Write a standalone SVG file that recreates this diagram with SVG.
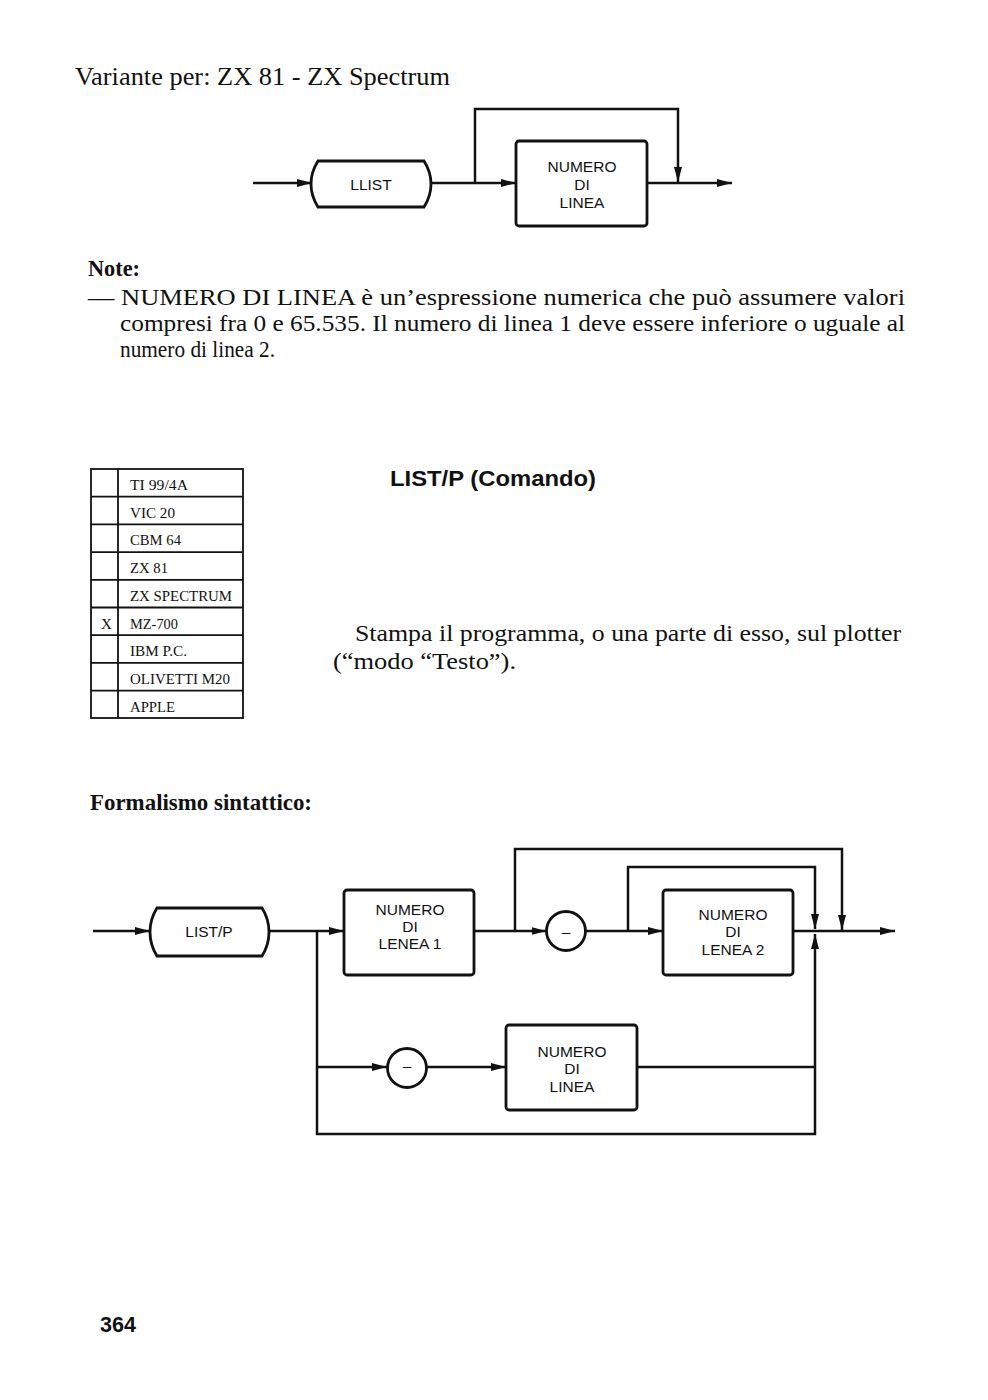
<svg xmlns="http://www.w3.org/2000/svg" width="988" height="1400" viewBox="0 0 988 1400">
<style>
.bg{fill:#fff}
.ln{fill:none;stroke:#111;stroke-width:2.5;stroke-linejoin:miter}
.box{fill:#fff;stroke:#111;stroke-width:2.8}
.cap{fill:#fff;stroke:#111;stroke-width:2.8}
.lbl{font-family:"Liberation Sans",Arial,sans-serif;font-size:15.5px;fill:#111;text-anchor:middle}
.ser{font-family:"Liberation Serif","Times New Roman",serif;fill:#111}
.body{font-size:23px}
.bold{font-weight:bold}
.tbl{font-family:"Liberation Serif","Times New Roman",serif;font-size:14px;fill:#111}
.tbline{fill:none;stroke:#111;stroke-width:1.8}
.sans{font-family:"Liberation Sans",Arial,sans-serif;fill:#111}
</style>
<defs>
<marker id="ah" viewBox="0 0 15 8" refX="15" refY="4" markerWidth="15" markerHeight="8" markerUnits="userSpaceOnUse" orient="auto">
<path d="M0,0 L15,4 L0,8 Z" fill="#111"/>
</marker>
</defs>
<rect class="bg" x="0" y="0" width="988" height="1400"/>

<g id="texts">
<text class="ser" x="75" y="85" font-size="25" textLength="375" lengthAdjust="spacingAndGlyphs">Variante per: ZX 81 - ZX Spectrum</text>
<text class="ser bold" x="88" y="276" font-size="23" textLength="52" lengthAdjust="spacingAndGlyphs">Note:</text>
<text class="ser body" x="88" y="305" textLength="817" lengthAdjust="spacingAndGlyphs">— NUMERO DI LINEA è un’espressione numerica che può assumere valori</text>
<text class="ser body" x="120" y="331" textLength="785" lengthAdjust="spacingAndGlyphs">compresi fra 0 e 65.535. Il numero di linea 1 deve essere inferiore o uguale al</text>
<text class="ser body" x="120" y="357" textLength="155" lengthAdjust="spacingAndGlyphs">numero di linea 2.</text>
<text class="sans bold" x="390" y="486" font-size="22" textLength="206" lengthAdjust="spacingAndGlyphs">LIST/P (Comando)</text>
<text class="ser body" x="355" y="641" textLength="546" lengthAdjust="spacingAndGlyphs">Stampa il programma, o una parte di esso, sul plotter</text>
<text class="ser body" x="333" y="669" textLength="183" lengthAdjust="spacingAndGlyphs">(“modo “Testo”).</text>
<text class="ser bold" x="90" y="810" font-size="22.5" textLength="222" lengthAdjust="spacingAndGlyphs">Formalismo sintattico:</text>
<text class="sans bold" x="100" y="1332" font-size="22" textLength="36" lengthAdjust="spacingAndGlyphs">364</text>
</g>

<g id="table">
<rect class="tbline" x="91" y="469" width="152" height="249"/>
<line class="tbline" x1="118" y1="469" x2="118" y2="718"/>
<line class="tbline" x1="91" y1="496.7" x2="243" y2="496.7"/>
<line class="tbline" x1="91" y1="524.4" x2="243" y2="524.4"/>
<line class="tbline" x1="91" y1="552.1" x2="243" y2="552.1"/>
<line class="tbline" x1="91" y1="579.8" x2="243" y2="579.8"/>
<line class="tbline" x1="91" y1="607.5" x2="243" y2="607.5"/>
<line class="tbline" x1="91" y1="635.2" x2="243" y2="635.2"/>
<line class="tbline" x1="91" y1="662.9" x2="243" y2="662.9"/>
<line class="tbline" x1="91" y1="690.6" x2="243" y2="690.6"/>
<text class="tbl" x="130" y="490" textLength="58" lengthAdjust="spacingAndGlyphs">TI 99/4A</text>
<text class="tbl" x="130" y="517.7" textLength="45" lengthAdjust="spacingAndGlyphs">VIC 20</text>
<text class="tbl" x="130" y="545.4" textLength="51" lengthAdjust="spacingAndGlyphs">CBM 64</text>
<text class="tbl" x="130" y="573.1" textLength="38" lengthAdjust="spacingAndGlyphs">ZX 81</text>
<text class="tbl" x="130" y="600.8" textLength="102" lengthAdjust="spacingAndGlyphs">ZX SPECTRUM</text>
<text class="tbl" x="101" y="628.5" textLength="11" lengthAdjust="spacingAndGlyphs">X</text>
<text class="tbl" x="130" y="628.5" textLength="48" lengthAdjust="spacingAndGlyphs">MZ-700</text>
<text class="tbl" x="130" y="656.2" textLength="57" lengthAdjust="spacingAndGlyphs">IBM P.C.</text>
<text class="tbl" x="130" y="683.9" textLength="100" lengthAdjust="spacingAndGlyphs">OLIVETTI M20</text>
<text class="tbl" x="130" y="711.6" textLength="45" lengthAdjust="spacingAndGlyphs">APPLE</text>
</g>

<g id="connectors">
<line class="ln" x1="253" y1="183" x2="312" y2="183" marker-end="url(#ah)"/>
<line class="ln" x1="431" y1="183" x2="516" y2="183" marker-end="url(#ah)"/>
<path class="ln" d="M475,183 V109 H678 V182" marker-end="url(#ah)"/>
<line class="ln" x1="647" y1="183" x2="732" y2="183" marker-end="url(#ah)"/>

<line class="ln" x1="93" y1="931" x2="150" y2="931" marker-end="url(#ah)"/>
<line class="ln" x1="269" y1="931" x2="344" y2="931" marker-end="url(#ah)"/>
<line class="ln" x1="474" y1="931" x2="546.5" y2="931" marker-end="url(#ah)"/>
<path class="ln" d="M515,931 V849 H842 V930" marker-end="url(#ah)"/>
<line class="ln" x1="585.5" y1="931" x2="663" y2="931" marker-end="url(#ah)"/>
<path class="ln" d="M628,931 V867 H815 V929" marker-end="url(#ah)"/>
<line class="ln" x1="793" y1="931" x2="895" y2="931" marker-end="url(#ah)"/>
<path class="ln" d="M317,931 V1134 H815 V934" marker-end="url(#ah)"/>
<line class="ln" x1="317" y1="1067" x2="387" y2="1067" marker-end="url(#ah)"/>
<line class="ln" x1="426" y1="1067" x2="506" y2="1067" marker-end="url(#ah)"/>
<line class="ln" x1="637" y1="1067" x2="815" y2="1067"/>
</g>

<g id="n-llist">
<path class="cap" d="M318,161 H424 Q431,172 431,184 Q431,196 424,207 H318 Q311,196 311,184 Q311,172 318,161 Z"/>
<text class="lbl" x="371" y="190" font-size="14.5">LLIST</text>
</g>
<g id="n-numero-top">
<rect class="box" x="516" y="141" width="131" height="85" rx="3"/>
<text class="lbl" x="582" y="172" font-size="15">NUMERO</text>
<text class="lbl" x="582" y="190" font-size="15">DI</text>
<text class="lbl" x="582" y="208" font-size="15">LINEA</text>
</g>

<g id="n-listp">
<path class="cap" d="M157,908 H262 Q269,919 269,932 Q269,945 262,956 H157 Q150,945 150,932 Q150,919 157,908 Z"/>
<text class="lbl" x="209" y="937">LIST/P</text>
</g>
<g id="n-linea1">
<rect class="box" x="344" y="890" width="130" height="85" rx="3"/>
<text class="lbl" x="410" y="915" font-size="16">NUMERO</text>
<text class="lbl" x="410" y="932" font-size="16">DI</text>
<text class="lbl" x="410" y="949" font-size="16">LENEA 1</text>
</g>
<g id="n-minus1">
<circle class="box" cx="566" cy="931" r="19.5"/>
<text class="lbl" x="566" y="937" font-size="18">–</text>
</g>
<g id="n-linea2">
<rect class="box" x="663" y="890" width="130" height="85" rx="3"/>
<text class="lbl" x="733" y="920">NUMERO</text>
<text class="lbl" x="733" y="937">DI</text>
<text class="lbl" x="733" y="955">LENEA 2</text>
</g>
<g id="n-minus2">
<circle class="box" cx="407" cy="1068" r="19.5"/>
<text class="lbl" x="407" y="1071" font-size="18">–</text>
</g>
<g id="n-linea">
<rect class="box" x="506" y="1025" width="131" height="85" rx="3"/>
<text class="lbl" x="572" y="1057">NUMERO</text>
<text class="lbl" x="572" y="1074">DI</text>
<text class="lbl" x="572" y="1092">LINEA</text>
</g>
</svg>
